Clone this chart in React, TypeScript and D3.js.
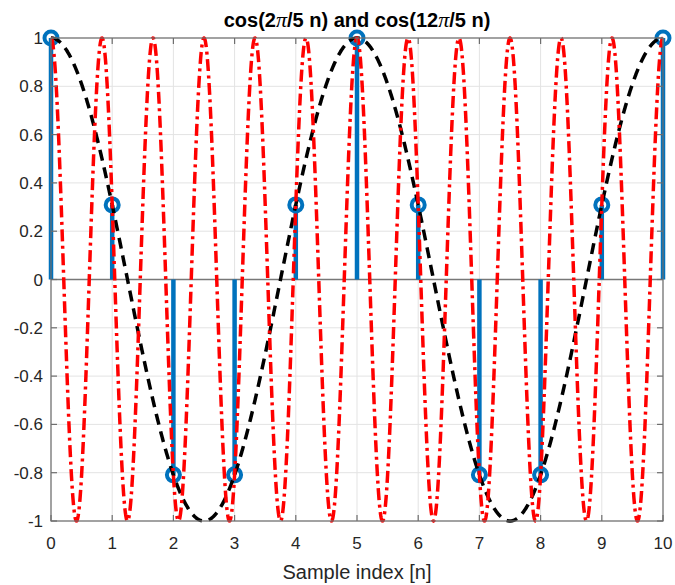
import React from 'react'
import * as d3 from 'd3'

const width = 675
const height = 585
const margin = { top: 38, right: 12, bottom: 64, left: 51 }

// sample index and stem values
const sampleIndex = [0, 1, 2, 3, 4, 5, 6, 7, 8, 9, 10]
const stemValues = [1, 0.309, -0.809, -0.809, 0.309, 1, 0.309, -0.809, -0.809, 0.309, 1]

// continuous curves: cos(k*pi/5 * t)
const slowFactor = 2 / 5
const fastFactor = 12 / 5

const xTicks = [0, 1, 2, 3, 4, 5, 6, 7, 8, 9, 10]
const yTicks = [-1, -0.8, -0.6, -0.4, -0.2, 0, 0.2, 0.4, 0.6, 0.8, 1]

const font = '"Liberation Sans", Arial, Helvetica, sans-serif'
const piFont = '"Liberation Serif", serif'

const App = () => {
    const xScale = d3
        .scaleLinear()
        .domain([0, 10])
        .range([margin.left, width - margin.right])
    const yScale = d3
        .scaleLinear()
        .domain([-1, 1])
        .range([height - margin.bottom, margin.top])

    const t = d3.range(0, 10.0005, 0.005)
    const curve = (k: number) =>
        d3
            .line<number>()
            .x((d) => xScale(d))
            .y((d) => yScale(Math.cos(k * Math.PI * d)))(t)

    const x0 = xScale(0)
    const x1 = xScale(10)
    const yTop = yScale(1)
    const yBot = yScale(-1)
    const axisColor = '#6e6e6e'
    const tickLen = 6

    return (
        <svg width={width} height={height} style={{ display: 'block', position: 'absolute', left: 0, top: 0 }}>
            <rect width={width} height={height} fill="#fff" />
            {/* grid */}
            <g stroke="#e3e3e3" strokeWidth={1}>
                {xTicks.map((d) => (
                    <line key={'gx' + d} x1={xScale(d)} x2={xScale(d)} y1={yTop} y2={yBot} />
                ))}
                {yTicks.map((d) => (
                    <line key={'gy' + d} x1={x0} x2={x1} y1={yScale(d)} y2={yScale(d)} />
                ))}
            </g>
            {/* stem baseline */}
            <line x1={x0} x2={x1} y1={yScale(0)} y2={yScale(0)} stroke="#777" strokeWidth={1.5} />
            {/* stems */}
            <g stroke="#0072BD" strokeWidth={4.5}>
                {sampleIndex.map((n, i) => (
                    <line key={'s' + n} x1={xScale(n)} x2={xScale(n)} y1={yScale(0)} y2={yScale(stemValues[i])} />
                ))}
            </g>
            <g stroke="#0072BD" strokeWidth={4} fill="none">
                {sampleIndex.map((n, i) => (
                    <circle key={'m' + n} cx={xScale(n)} cy={yScale(stemValues[i])} r={6.5} />
                ))}
            </g>
            {/* cos(2pi/5 t) */}
            <path d={curve(slowFactor) || ''} fill="none" stroke="#000" strokeWidth={3.5} strokeDasharray="11,7" />
            {/* cos(12pi/5 t) */}
            <path
                d={curve(fastFactor) || ''}
                fill="none"
                stroke="#ff0000"
                strokeWidth={3.5}
                strokeDasharray="12,4.5,3,4.5"
            />
            {/* axes box */}
            <rect x={x0} y={yTop} width={x1 - x0} height={yBot - yTop} fill="none" stroke={axisColor} strokeWidth={1.2} />
            <g stroke={axisColor} strokeWidth={1.2}>
                {xTicks.map((d) => (
                    <g key={'tx' + d}>
                        <line x1={xScale(d)} x2={xScale(d)} y1={yBot} y2={yBot - tickLen} />
                        <line x1={xScale(d)} x2={xScale(d)} y1={yTop} y2={yTop + tickLen} />
                    </g>
                ))}
                {yTicks.map((d) => (
                    <g key={'ty' + d}>
                        <line x1={x0} x2={x0 + tickLen} y1={yScale(d)} y2={yScale(d)} />
                        <line x1={x1} x2={x1 - tickLen} y1={yScale(d)} y2={yScale(d)} />
                    </g>
                ))}
            </g>
            {/* tick labels */}
            <g fontFamily={font} fontSize={17} fill="#262626">
                {xTicks.map((d) => (
                    <text key={'lx' + d} x={xScale(d)} y={yBot + 28} textAnchor="middle">
                        {d}
                    </text>
                ))}
                {yTicks.map((d) => (
                    <text key={'ly' + d} x={x0 - 8} y={yScale(d) + 6} textAnchor="end">
                        {d}
                    </text>
                ))}
            </g>
            <text x={(x0 + x1) / 2} y={height - 6} textAnchor="middle" fontFamily={font} fontSize={20} fill="#262626">
                Sample index [n]
            </text>
            <text
                x={(x0 + x1) / 2}
                y={27}
                textAnchor="middle"
                fontFamily={font}
                fontSize={20}
                fontWeight="bold"
                fill="#000"
            >
                cos(2<tspan fontFamily={piFont} fontWeight="normal" fontStyle="italic" fontSize={22}>π</tspan>/5 n) and cos(12
                <tspan fontFamily={piFont} fontWeight="normal" fontStyle="italic" fontSize={22}>π</tspan>/5 n)
            </text>
        </svg>
    )
}

export default App
